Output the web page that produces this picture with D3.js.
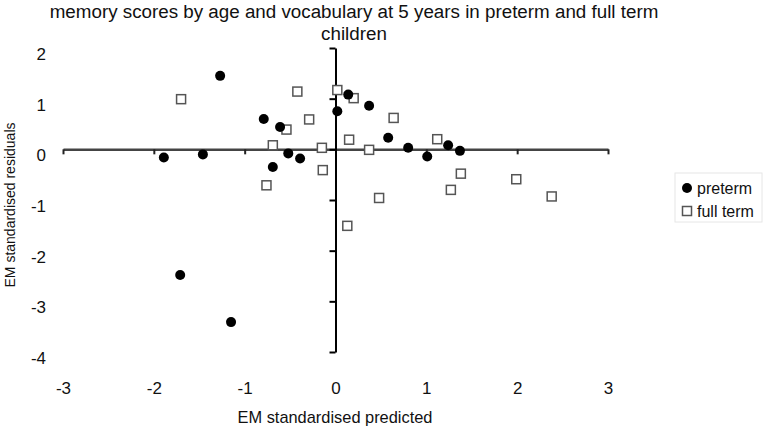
<!DOCTYPE html>
<html>
<head>
<meta charset="utf-8">
<script src="https://cdn.jsdelivr.net/npm/d3@7"></script>
<style>
  body { margin: 0; background: #fff; }
  text { font-family: "Liberation Sans", Arial, sans-serif; fill: #111; }
</style>
</head>
<body>
<div id="chart"></div>
<script>
// values
const xTicks = [-3, -2, -1, 0, 1, 2, 3];
const yTicks = [2, 1, 0, -1, -2, -3, -4];

const pretermX = [-1.27, -1.89, -1.46, -0.79, -0.61, -0.69, -0.52, -0.39, 0.02, 0.14, 0.37, 0.58, 0.80, 1.01, 1.24, 1.37, -1.71, -1.15];
const pretermY = [1.45, -0.16, -0.10, 0.60, 0.44, -0.35, -0.08, -0.18, 0.75, 1.08, 0.86, 0.23, 0.03, -0.14, 0.08, -0.03, -2.48, -3.41];

const fullX = [-1.70, -0.42, -0.29, -0.54, -0.69, -0.15, -0.14, -0.76, 0.02, 0.20, 0.64, 0.15, 0.37, 1.12, 1.38, 1.27, 1.99, 2.38, 0.48, 0.13];
const fullY = [0.99, 1.14, 0.59, 0.39, 0.08, 0.03, -0.41, -0.71, 1.17, 1.01, 0.62, 0.19, -0.01, 0.20, -0.48, -0.80, -0.59, -0.93, -0.96, -1.51];

const seriesNames = ["preterm", "full term"];
const titleLines = ["memory scores by age and vocabulary at 5 years in preterm and full term", "children"];

const width = 764, height = 430;

const svg = d3.select("#chart").append("svg")
    .attr("width", width)
    .attr("height", height);

const x = d3.scaleLinear().domain([-3, 3]).range([63, 608]);
const y = d3.scaleLinear().domain([2, -4]).range([48, 352]);

// plain hyphen for negatives, like the original
const fmt = d => String(d);

// title
svg.selectAll("text.title")
    .data(titleLines)
    .enter().append("text")
    .attr("class", "title")
    .attr("x", 354)
    .attr("y", (d, i) => 18 + i * 22)
    .attr("text-anchor", "middle")
    .style("font-size", "18.8px")
    .text(d => d);

// x axis line through y = 0, ticks hanging down
const xAxis = svg.append("g")
    .attr("transform", `translate(0,${y(0)})`)
    .call(d3.axisBottom(x).tickValues(xTicks).tickSize(5).tickSizeOuter(0).tickFormat(""));
xAxis.select(".domain").attr("stroke", "#444").attr("stroke-width", 2.5);
xAxis.selectAll(".tick line").attr("stroke", "#222").attr("stroke-width", 2);

// y axis line through x = 0, ticks to the left
const yAxis = svg.append("g")
    .attr("transform", `translate(${x(0)},0)`)
    .call(d3.axisLeft(y).tickValues(yTicks).tickSize(6).tickSizeOuter(0).tickFormat(""));
yAxis.select(".domain").attr("stroke", "#000").attr("stroke-width", 2);
yAxis.selectAll(".tick line").attr("stroke", "#000").attr("stroke-width", 2);

// tick labels at the edges (Excel low position)
const xLab = svg.append("g")
    .attr("transform", "translate(0,382)")
    .call(d3.axisBottom(x).tickValues(xTicks).tickSize(0).tickPadding(0).tickFormat(fmt));
xLab.select(".domain").remove();
xLab.selectAll("text").style("font-size", "17px").attr("fill", "#111");

const yLab = svg.append("g")
    .attr("transform", "translate(46,6)")
    .call(d3.axisLeft(y).tickValues(yTicks).tickSize(0).tickPadding(0).tickFormat(fmt));
yLab.select(".domain").remove();
yLab.selectAll("text").style("font-size", "17px").attr("fill", "#111");

// axis titles
svg.append("text")
    .attr("x", 335)
    .attr("y", 423)
    .attr("text-anchor", "middle")
    .style("font-size", "16.4px")
    .text("EM standardised predicted");

svg.append("text")
    .attr("transform", "translate(15,205) rotate(-90)")
    .attr("text-anchor", "middle")
    .style("font-size", "14px")
    .text("EM standardised residuals");

// points
const preterm = pretermX.map((v, i) => [v, pretermY[i]]);
const full = fullX.map((v, i) => [v, fullY[i]]);

const sq = 9;
svg.append("g").selectAll("rect")
    .data(full)
    .enter().append("rect")
    .attr("x", d => x(d[0]) - sq / 2)
    .attr("y", d => y(d[1]) - sq / 2)
    .attr("width", sq)
    .attr("height", sq)
    .attr("fill", "#fff")
    .attr("stroke", "#555")
    .attr("stroke-width", 1.5);

svg.append("g").selectAll("circle")
    .data(preterm)
    .enter().append("circle")
    .attr("cx", d => x(d[0]))
    .attr("cy", d => y(d[1]))
    .attr("r", 5)
    .attr("fill", "#000");

// legend
const legend = svg.append("g");
legend.append("rect")
    .attr("x", 675).attr("y", 173)
    .attr("width", 87).attr("height", 49)
    .attr("fill", "none")
    .attr("stroke", "#e6e6e6");
legend.append("circle")
    .attr("cx", 687).attr("cy", 188).attr("r", 5).attr("fill", "#000");
legend.append("rect")
    .attr("x", 687 - sq / 2).attr("y", 211 - sq / 2)
    .attr("width", sq).attr("height", sq)
    .attr("fill", "#fff").attr("stroke", "#555").attr("stroke-width", 1.5);
legend.selectAll("text.leg")
    .data(seriesNames)
    .enter().append("text")
    .attr("class", "leg")
    .attr("x", 697)
    .attr("y", (d, i) => 194 + i * 23)
    .style("font-size", "16px")
    .text(d => d);
</script>
</body>
</html>
